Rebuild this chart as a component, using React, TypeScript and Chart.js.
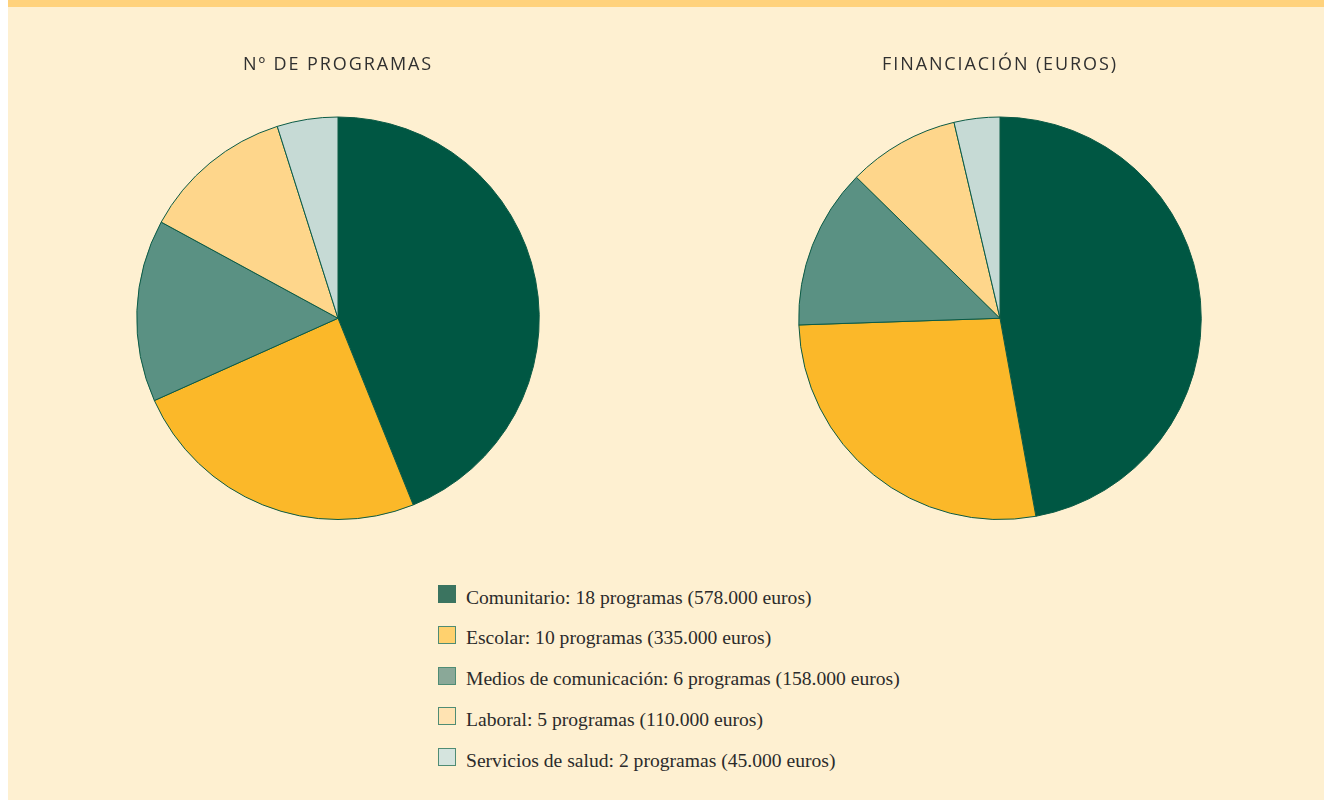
import React, { useEffect, useRef } from "react";
import { Chart, registerables } from "chart.js";

Chart.register(...registerables);

const categories = ["Comunitario", "Escolar", "Medios de comunicación", "Laboral", "Servicios de salud"];
const programas = [18, 10, 6, 5, 2];
const euros = [578000, 335000, 158000, 110000, 45000];
const euroLabels = ["578.000", "335.000", "158.000", "110.000", "45.000"];
const titles = ["Nº DE PROGRAMAS", "FINANCIACIÓN (EUROS)"];

const pieColors = ["#005743", "#FBB829", "#5A9183", "#FED68B", "#C6DAD5"];
const legendColors = ["#3B7460", "#FFD16E", "#8AA898", "#FFE3B2", "#D5E4DE"];
const legendBorders = ["#3B7460", "#4F8C74", "#4F8C74", "#4F8C74", "#4F8C74"];

const letterSpacingPlugin = {
  id: "titleLetterSpacing",
  beforeDraw(chart: any) {
    (chart.ctx as any).letterSpacing = "1.9px";
  },
};

function PieCanvas({ values, title, left }: { values: number[]; title: string; left: number }) {
  const ref = useRef<HTMLCanvasElement | null>(null);
  useEffect(() => {
    if (!ref.current) return;
    const chart = new Chart(ref.current, {
      type: "pie",
      data: {
        labels: categories,
        datasets: [
          {
            data: values,
            backgroundColor: pieColors,
            borderColor: "#0B5A45",
            borderWidth: 1,
          },
        ],
      },
      options: {
        responsive: false,
        animation: false,
        layout: { padding: 0 },
        plugins: {
          legend: { display: false },
          tooltip: { enabled: false },
          title: {
            display: true,
            text: title,
            color: "#303030",
            font: { family: "'Open Sans'", size: 18, weight: "normal", lineHeight: 1.2 },
            padding: { top: 14, bottom: 40.9 },
          },
        },
      },
      plugins: [letterSpacingPlugin],
    });
    return () => chart.destroy();
  }, [values, title]);
  return (
    <canvas
      ref={ref}
      width={500}
      height={480}
      style={{ position: "absolute", left, top: 40, width: 500, height: 480 }}
    />
  );
}

export default function App() {
  return (
    <div
      style={{
        position: "absolute",
        left: 8,
        top: 0,
        width: 1316,
        height: 800,
        background: "#FEF0D1",
        overflow: "hidden",
      }}
    >
      <div style={{ position: "absolute", left: 0, top: 0, width: 1316, height: 7, background: "#FFD27C" }} />
      <PieCanvas values={programas} title={titles[0]} left={80} />
      <PieCanvas values={euros} title={titles[1]} left={742} />
      <div style={{ position: "absolute", left: 430, top: 585 }}>
        {categories.map((c, i) => (
          <div key={c} style={{ position: "relative", height: 40.75 }}>
            <div
              style={{
                position: "absolute",
                left: 0,
                top: 0,
                width: 16,
                height: 16,
                background: legendColors[i],
                border: `1.5px solid ${legendBorders[i]}`,
              }}
            />
            <div
              style={{
                position: "absolute",
                left: 28,
                top: 0.5,
                whiteSpace: "nowrap",
                fontFamily: "'Liberation Serif', 'Times New Roman', serif",
                fontSize: 19.6,
                color: "#2b2b2b",
                lineHeight: "24px",
              }}
            >
              {`${c}: ${programas[i]} programas (${euroLabels[i]} euros)`}
            </div>
          </div>
        ))}
      </div>
    </div>
  );
}
